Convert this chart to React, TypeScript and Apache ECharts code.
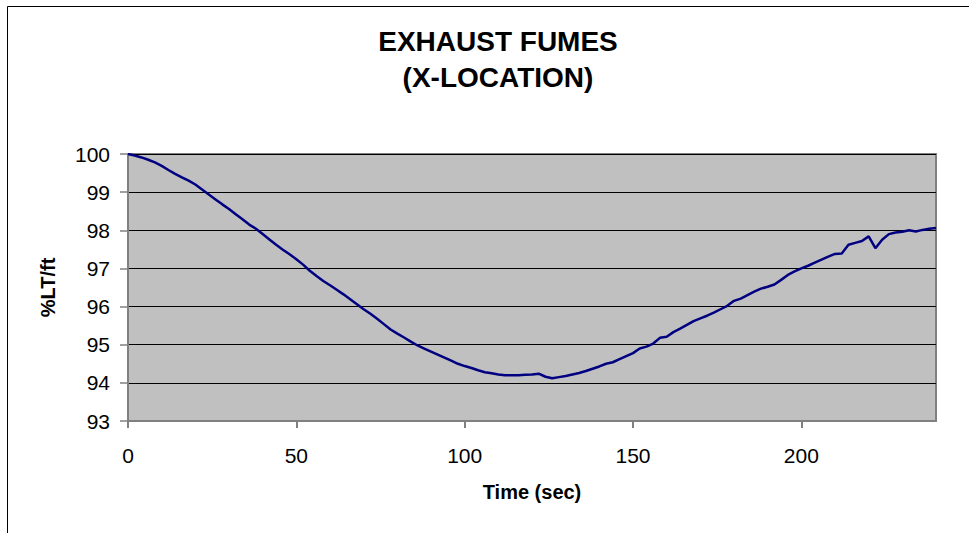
import React, { useEffect, useRef } from "react";
import * as echarts from "echarts";

const titleLines = ["EXHAUST FUMES", "(X-LOCATION)"];
const xAxisTitle = "Time (sec)";
const yAxisTitle = "%LT/ft";

const timeSec = [
  0, 2, 4, 6, 8, 10, 12, 14, 16, 18, 20, 22, 24, 26, 28, 30, 32, 34, 36, 38,
  40, 42, 44, 46, 48, 50, 52, 54, 56, 58, 60, 62, 64, 66, 68, 70, 72, 74, 76, 78,
  80, 82, 84, 86, 88, 90, 92, 94, 96, 98, 100, 102, 104, 106, 108, 110, 112, 114, 116, 118,
  120, 122, 124, 126, 128, 130, 132, 134, 136, 138, 140, 142, 144, 146, 148, 150, 152, 154, 156, 158,
  160, 162, 164, 166, 168, 170, 172, 174, 176, 178, 180, 182, 184, 186, 188, 190, 192, 194, 196, 198,
  200, 202, 204, 206, 208, 210, 212, 214, 216, 218, 220, 222, 224, 226, 228, 230, 232, 234, 236, 238,
  240,
];

const ltPerFt = [
  100.0, 99.96, 99.91, 99.85, 99.78, 99.69, 99.58, 99.48, 99.39, 99.3, 99.2, 99.07, 98.94, 98.81, 98.68, 98.56, 98.42, 98.29, 98.15, 98.04,
  97.9, 97.76, 97.62, 97.49, 97.37, 97.24, 97.1, 96.94, 96.8, 96.67, 96.56, 96.44, 96.32, 96.19, 96.06, 95.93, 95.81, 95.68, 95.54, 95.4,
  95.29, 95.19, 95.08, 94.98, 94.9, 94.82, 94.74, 94.66, 94.58, 94.5, 94.44, 94.39, 94.33, 94.28, 94.25, 94.22, 94.2, 94.2, 94.2, 94.21,
  94.22, 94.24, 94.16, 94.12, 94.15, 94.18, 94.22, 94.26, 94.31, 94.37, 94.43, 94.5, 94.54, 94.62, 94.7, 94.78, 94.9, 94.95, 95.03, 95.18,
  95.21, 95.33, 95.42, 95.52, 95.62, 95.69, 95.76, 95.84, 95.93, 96.02, 96.15, 96.21, 96.3, 96.39, 96.47, 96.52, 96.58, 96.7, 96.83, 96.92,
  97.0, 97.07, 97.15, 97.23, 97.31, 97.38, 97.39, 97.62, 97.67, 97.72, 97.84, 97.53, 97.75, 97.9, 97.94, 97.96, 98.0, 97.97, 98.01, 98.04,
  98.06,
];

const xMin = 0;
const xMax = 240;
const xStep = 50;
const yMin = 93;
const yMax = 100;
const yStep = 1;

export default function App() {
  const ref = useRef<HTMLDivElement>(null);

  useEffect(() => {
    if (!ref.current) return;
    const chart = echarts.init(ref.current, null, { renderer: "svg" });
    const font = "'Liberation Sans', Arial, Helvetica, sans-serif";
    chart.setOption({
      animation: false,
      backgroundColor: "#ffffff",
      textStyle: { fontFamily: font },
      graphic: [
        {
          type: "rect",
          shape: { x: 7.5, y: 6.5, width: 1000, height: 600 },
          style: { fill: "none", stroke: "#000000", lineWidth: 1 },
          silent: true,
        },
      ],
      title: {
        text: titleLines.join("\n"),
        left: 493,
        top: 18,
        textAlign: "center",
        textStyle: {
          fontFamily: font,
          fontSize: 28,
          fontWeight: "bold",
          color: "#000000",
          lineHeight: 36,
        },
      },
      grid: {
        left: 128,
        right: 33,
        top: 154,
        bottom: 112,
        show: true,
        backgroundColor: "#C0C0C0",
        borderColor: "#808080",
        borderWidth: 2,
      },
      xAxis: {
        type: "value",
        min: xMin,
        max: xMax,
        interval: xStep,
        name: xAxisTitle,
        nameLocation: "middle",
        nameGap: 61,
        nameTextStyle: { fontFamily: font, fontSize: 20, fontWeight: "bold", color: "#000000" },
        axisLine: { show: true, onZero: false, lineStyle: { color: "#808080", width: 2 } },
        axisTick: { show: true, inside: false, length: 7, lineStyle: { color: "#808080", width: 2 } },
        axisLabel: { show: true, margin: 24, fontSize: 21, color: "#000000", fontFamily: font, showMaxLabel: false },
        splitLine: { show: false },
      },
      yAxis: {
        type: "value",
        min: yMin,
        max: yMax,
        interval: yStep,
        name: yAxisTitle,
        nameLocation: "middle",
        nameGap: 70,
        nameTextStyle: { fontFamily: font, fontSize: 20, fontWeight: "bold", color: "#000000" },
        axisLine: { show: true, onZero: false, lineStyle: { color: "#808080", width: 2 } },
        axisTick: { show: true, inside: false, length: 8, lineStyle: { color: "#808080", width: 1.5 } },
        axisLabel: { show: true, margin: 18, fontSize: 21, color: "#000000", fontFamily: font },
        splitLine: { show: true, lineStyle: { color: "#000000", width: 1 } },
      },
      series: [
        {
          type: "line",
          data: timeSec.map((t, i) => [t, ltPerFt[i]]),
          showSymbol: false,
          symbol: "none",
          lineStyle: { color: "#000080", width: 2.5 },
          itemStyle: { color: "#000080" },
          z: 3,
        },
      ],
    });
    return () => chart.dispose();
  }, []);

  return (
    <div
      ref={ref}
      style={{ position: "fixed", left: 0, top: 0, width: 969, height: 533, background: "#fff" }}
    />
  );
}
